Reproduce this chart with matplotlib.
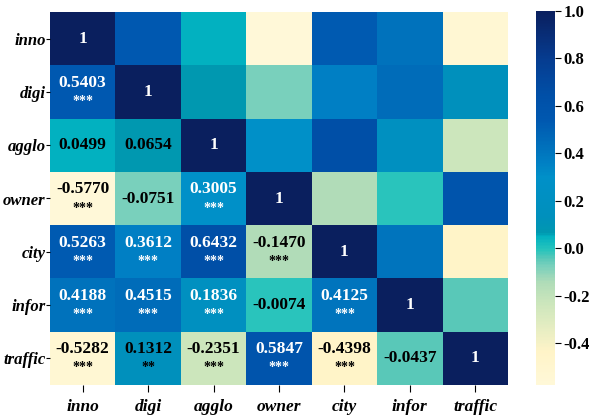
import numpy as np
import matplotlib
matplotlib.use('Agg')
import matplotlib.pyplot as plt
from matplotlib import colors

plt.rcParams['font.family'] = ['Liberation Serif', 'DejaVu Serif']
plt.rcParams['font.weight'] = 'bold'

names = ['inno', 'digi', 'agglo', 'owner', 'city', 'infor', 'traffic']

# lower triangle of the correlation matrix, row by row
lower = [
    [1],
    [0.5403, 1],
    [0.0499, 0.0654, 1],
    [-0.5770, -0.0751, 0.3005, 1],
    [0.5263, 0.3612, 0.6432, -0.1470, 1],
    [0.4188, 0.4515, 0.1836, -0.0074, 0.4125, 1],
    [-0.5282, 0.1312, -0.2351, 0.5847, -0.4398, -0.0437, 1],
]

# significance marks for the same cells
stars = [
    [''],
    ['***', ''],
    ['', '', ''],
    ['***', '', '***', ''],
    ['***', '***', '***', '***', ''],
    ['***', '***', '***', '', '***', ''],
    ['***', '**', '***', '***', '***', '', ''],
]

n = len(names)
corr = np.zeros((n, n))
for i, row in enumerate(lower):
    for j, v in enumerate(row):
        corr[i, j] = v
        corr[j, i] = v

vmin, vmax = corr.min(), corr.max()

# yellow -> green -> cyan, then a jump into blue for positive values
nodes = [
    (-0.577, '#fff8d8'),
    (-0.44, '#fff4c8'),
    (-0.235, '#cce6bc'),
    (-0.147, '#b0dcb8'),
    (-0.075, '#78d0bc'),
    (-0.044, '#58c8b8'),
    (-0.007, '#28c4bc'),
    (0.05, '#00b0c0'),
    (0.065, '#0098b0'),
    (0.13, '#0090bc'),
    (0.30, '#0090c8'),
    (0.36, '#0080c4'),
    (0.42, '#0072bc'),
    (0.54, '#0058b0'),
    (0.64, '#0050a8'),
    (0.80, '#063c90'),
    (1.0, '#0a1f5e'),
]
cmap = colors.LinearSegmentedColormap.from_list(
    'corr', [((v - vmin) / (vmax - vmin), c) for v, c in nodes])
norm = colors.Normalize(vmin=vmin, vmax=vmax)

fig = plt.figure(figsize=(5.89, 4.15), dpi=100)
ax = fig.add_axes([50/589, 30/415, 458/589, 373/415])
cax = fig.add_axes([536/589, 30/415, 19/589, 374/415])

mesh = ax.pcolormesh(np.arange(n+1), np.arange(n+1), corr, cmap=cmap, norm=norm)
ax.set_xlim(0, n)
ax.set_ylim(n, 0)

for i, row in enumerate(lower):
    for j, v in enumerate(row):
        tc = 'black' if v < 0.15 else 'white'
        txt = '1' if v == 1 else '{:.4f}'.format(v)
        s = stars[i][j]
        if s:
            ax.text(j + 0.5, i + 0.33, txt, ha='center', va='center',
                    color=tc, fontsize=12.5, fontweight='bold')
            ax.text(j + 0.5, i + 0.68, s, ha='center', va='center',
                    color=tc, fontsize=10)
        else:
            ax.text(j + 0.5, i + 0.5, txt, ha='center', va='center',
                    color=tc, fontsize=12.5, fontweight='bold')

ax.set_xticks(np.arange(n) + 0.5)
ax.set_yticks(np.arange(n) + 0.5)
ax.set_xticklabels(names, fontsize=12.5, fontstyle='italic', fontweight='bold')
ax.set_yticklabels(names, fontsize=12, fontstyle='italic', fontweight='bold',
                   rotation=0)
ax.tick_params(axis='x', length=5, width=0.8, pad=5)
ax.tick_params(axis='y', length=3, width=0.8, pad=0)
for sp in ax.spines.values():
    sp.set_visible(False)

cb = fig.colorbar(mesh, cax=cax)
cb.outline.set_visible(False)
cb.set_ticks([-0.4, -0.2, 0.0, 0.2, 0.4, 0.6, 0.8, 1.0])
cb.ax.set_yticklabels(['-0.4', '-0.2', '0.0', '0.2', '0.4', '0.6', '0.8', '1.0'])
cb.ax.tick_params(labelsize=12, length=4, width=0.8, pad=2)

plt.savefig('out.png', dpi=100)
